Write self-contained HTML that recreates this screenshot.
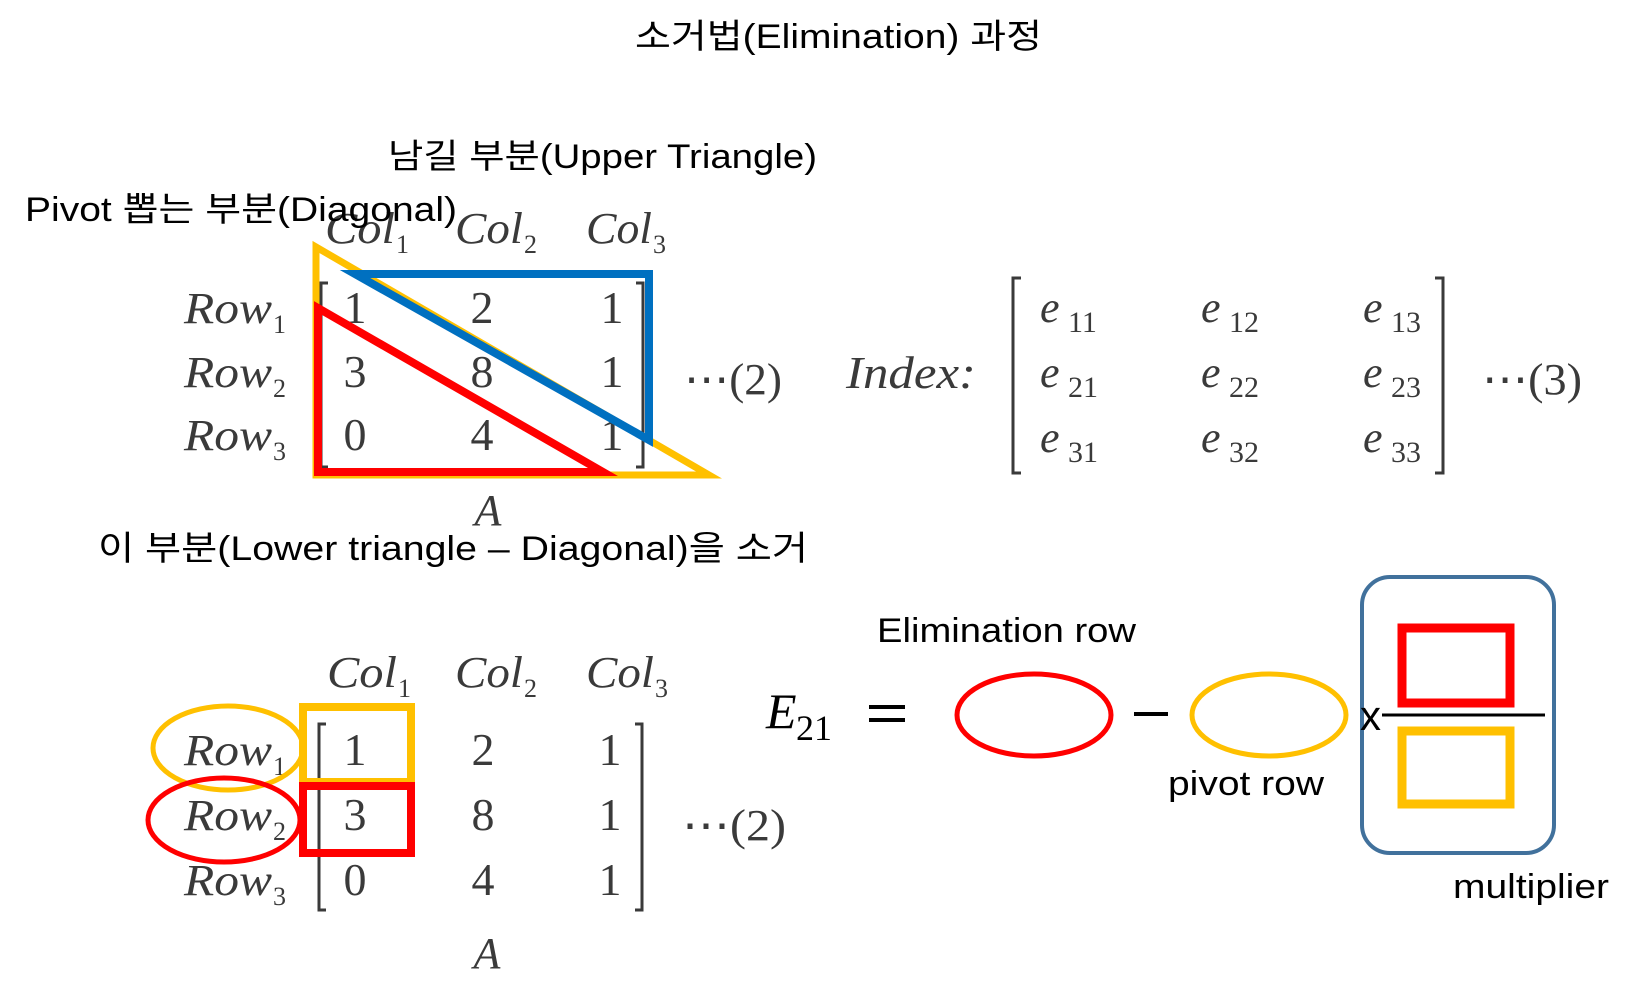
<!DOCTYPE html>
<html><head><meta charset="utf-8">
<style>
html,body{margin:0;padding:0;background:#fff;}
svg{display:block;}
.k{font-family:"Liberation Sans","Noto Sans CJK KR",sans-serif;fill:#000;}
.m{font-family:"Liberation Serif",serif;font-style:italic;fill:#3a3a3a;}
.n{font-family:"Liberation Serif",serif;fill:#3a3a3a;}
</style></head>
<body>
<svg width="1636" height="1004" viewBox="0 0 1636 1004">
<text class="k" x="635" y="48" font-size="34" textLength="407" lengthAdjust="spacingAndGlyphs">소거법(Elimination) 과정</text>
<text class="k" x="388" y="168" font-size="34" textLength="429" lengthAdjust="spacingAndGlyphs">남길 부분(Upper Triangle)</text>

<g>
<text class="m" x="325" y="243" font-size="44" textLength="70" lengthAdjust="spacingAndGlyphs">Col</text><text class="n" x="396" y="253" font-size="26">1</text>
<text class="m" x="455" y="243" font-size="44" textLength="68" lengthAdjust="spacingAndGlyphs">Col</text><text class="n" x="524" y="253" font-size="26">2</text>
<text class="m" x="586" y="243" font-size="44" textLength="66" lengthAdjust="spacingAndGlyphs">Col</text><text class="n" x="653" y="253" font-size="26">3</text>
<text class="m" x="184" y="323" font-size="44" textLength="88" lengthAdjust="spacingAndGlyphs">Row</text><text class="n" x="273" y="333" font-size="26">1</text>
<text class="m" x="184" y="387" font-size="44" textLength="88" lengthAdjust="spacingAndGlyphs">Row</text><text class="n" x="273" y="397" font-size="26">2</text>
<text class="m" x="184" y="450" font-size="44" textLength="88" lengthAdjust="spacingAndGlyphs">Row</text><text class="n" x="273" y="460" font-size="26">3</text>
<g class="n" font-size="46" text-anchor="middle">
<text x="355" y="323">1</text><text x="482" y="323">2</text><text x="612" y="323">1</text>
<text x="355" y="387">3</text><text x="482" y="387">8</text><text x="612" y="387">1</text>
<text x="355" y="450">0</text><text x="482" y="450">4</text><text x="612" y="450">1</text>
</g>
<path d="M328 283 H321 V467 H328 M636 283 H643 V467 H636" fill="none" stroke="#3a3a3a" stroke-width="3"/>
<text class="m" x="488" y="525" font-size="44" text-anchor="middle">A</text>
<text class="n" x="684" y="394" font-size="44" textLength="98" lengthAdjust="spacingAndGlyphs">⋯(2)</text>
</g>

<polygon points="316,247 316,475 709,475" fill="none" stroke="#FFC000" stroke-width="7"/>
<polygon points="355,274 649,274 649,440" fill="none" stroke="#0070C0" stroke-width="8"/>
<polygon points="318,308 318,472 603,472" fill="none" stroke="#FF0000" stroke-width="8"/>

<text class="k" x="25" y="221" font-size="34" textLength="432" lengthAdjust="spacingAndGlyphs">Pivot 뽑는 부분(Diagonal)</text>

<g>
<text class="m" x="846" y="388" font-size="46" textLength="130" lengthAdjust="spacingAndGlyphs">Index:</text>
<path d="M1021 278 H1013 V473 H1021 M1435 278 H1443 V473 H1435" fill="none" stroke="#3a3a3a" stroke-width="3"/>
<g font-size="44">
<text class="m" x="1040" y="322">e</text><text class="n" x="1068" y="332" font-size="30">11</text>
<text class="m" x="1201" y="322">e</text><text class="n" x="1229" y="332" font-size="30">12</text>
<text class="m" x="1363" y="322">e</text><text class="n" x="1391" y="332" font-size="30">13</text>
<text class="m" x="1040" y="387">e</text><text class="n" x="1068" y="397" font-size="30">21</text>
<text class="m" x="1201" y="387">e</text><text class="n" x="1229" y="397" font-size="30">22</text>
<text class="m" x="1363" y="387">e</text><text class="n" x="1391" y="397" font-size="30">23</text>
<text class="m" x="1040" y="452">e</text><text class="n" x="1068" y="462" font-size="30">31</text>
<text class="m" x="1201" y="452">e</text><text class="n" x="1229" y="462" font-size="30">32</text>
<text class="m" x="1363" y="452">e</text><text class="n" x="1391" y="462" font-size="30">33</text>
</g>
<text class="n" x="1482" y="394" font-size="44" textLength="100" lengthAdjust="spacingAndGlyphs">⋯(3)</text>
</g>

<text class="k" x="98" y="560" font-size="34" textLength="710" lengthAdjust="spacingAndGlyphs">이 부분(Lower triangle – Diagonal)을 소거</text>

<g>
<text class="m" x="327" y="687" font-size="44" textLength="70" lengthAdjust="spacingAndGlyphs">Col</text><text class="n" x="398" y="697" font-size="26">1</text>
<text class="m" x="455" y="687" font-size="44" textLength="68" lengthAdjust="spacingAndGlyphs">Col</text><text class="n" x="524" y="697" font-size="26">2</text>
<text class="m" x="586" y="687" font-size="44" textLength="68" lengthAdjust="spacingAndGlyphs">Col</text><text class="n" x="655" y="697" font-size="26">3</text>
<text class="m" x="184" y="765" font-size="44" textLength="88" lengthAdjust="spacingAndGlyphs">Row</text><text class="n" x="273" y="775" font-size="26">1</text>
<text class="m" x="184" y="830" font-size="44" textLength="88" lengthAdjust="spacingAndGlyphs">Row</text><text class="n" x="273" y="840" font-size="26">2</text>
<text class="m" x="184" y="895" font-size="44" textLength="88" lengthAdjust="spacingAndGlyphs">Row</text><text class="n" x="273" y="905" font-size="26">3</text>
<g class="n" font-size="46" text-anchor="middle">
<text x="355" y="765">1</text><text x="483" y="765">2</text><text x="610" y="765">1</text>
<text x="355" y="830">3</text><text x="483" y="830">8</text><text x="610" y="830">1</text>
<text x="355" y="895">0</text><text x="483" y="895">4</text><text x="610" y="895">1</text>
</g>
<path d="M326 724 H319 V910 H326 M635 724 H642 V910 H635" fill="none" stroke="#3a3a3a" stroke-width="3"/>
<text class="m" x="487" y="968" font-size="44" text-anchor="middle">A</text>
<text class="n" x="682" y="840" font-size="44" textLength="104" lengthAdjust="spacingAndGlyphs">⋯(2)</text>
</g>

<ellipse cx="228" cy="748" rx="75" ry="42" fill="none" stroke="#FFC000" stroke-width="5"/>
<ellipse cx="224" cy="820" rx="76" ry="42" fill="none" stroke="#FF0000" stroke-width="5"/>
<rect x="303" y="707" width="108" height="75" fill="none" stroke="#FFC000" stroke-width="8"/>
<rect x="303" y="786" width="108" height="67" fill="none" stroke="#FF0000" stroke-width="8"/>

<g>
<text class="k" x="877" y="642" font-size="34" textLength="259" lengthAdjust="spacingAndGlyphs">Elimination row</text>
<text class="m" x="766" y="728" font-size="50" style="fill:#000">E</text><text class="n" x="796" y="740" font-size="36" style="fill:#000">21</text>
<rect x="869" y="705" width="36" height="4" fill="#000"/><rect x="869" y="718" width="36" height="4" fill="#000"/>
<ellipse cx="1034" cy="715" rx="77" ry="41" fill="none" stroke="#FF0000" stroke-width="5"/>
<rect x="1134" y="712" width="34" height="4" fill="#000"/>
<ellipse cx="1269" cy="715" rx="77" ry="41" fill="none" stroke="#FFC000" stroke-width="5"/>
<text class="k" x="1168" y="795" font-size="34" textLength="156" lengthAdjust="spacingAndGlyphs">pivot row</text>
<rect x="1362" y="577" width="192" height="276" rx="28" fill="none" stroke="#41719C" stroke-width="4"/>
<rect x="1402" y="628" width="108" height="75" fill="none" stroke="#FF0000" stroke-width="9"/>
<rect x="1402" y="731" width="108" height="73" fill="none" stroke="#FFC000" stroke-width="9"/>
<line x1="1382" y1="715" x2="1545" y2="715" stroke="#000" stroke-width="3"/>
<text class="k" x="1360" y="730" font-size="42">x</text>
<text class="k" x="1453" y="898" font-size="34" textLength="156" lengthAdjust="spacingAndGlyphs">multiplier</text>
</g>
</svg>
</body></html>
